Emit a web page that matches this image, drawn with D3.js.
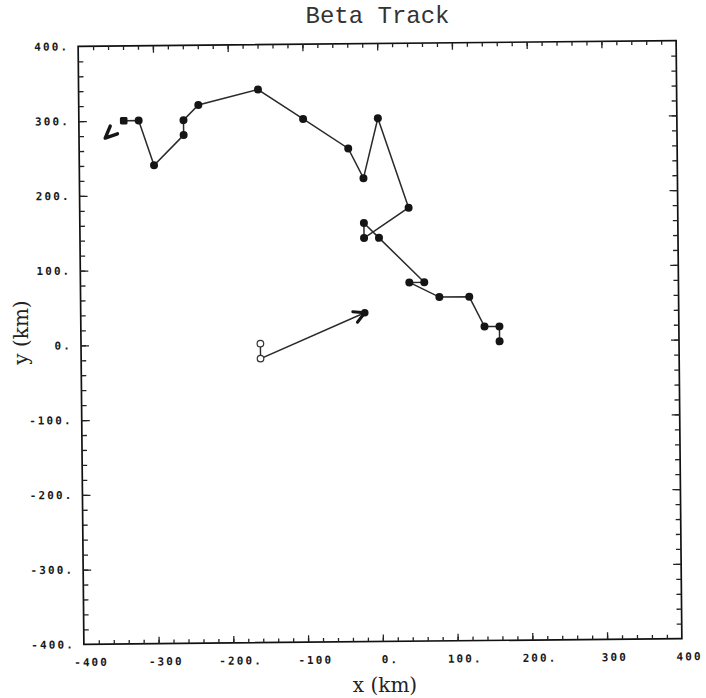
<!DOCTYPE html>
<html>
<head>
<meta charset="utf-8">
<script src="https://cdn.jsdelivr.net/npm/d3@7"></script>
<style>
  body { margin: 0; background: #fff; }
</style>
</head>
<body>
<div id="vis"></div>
<script>
// track of the vortex centre, km (first point = start)
const trackX = [160, 160, 140, 120, 80, 40, 60, 0, -20, -20, 40, 0, -20, -40, -100, -160, -240, -260, -260, -300, -320, -340];
const trackY = [0, 20, 20, 60, 60, 80, 80, 140, 160, 140, 180, 300, 220, 260, 300, 340, 320, 300, 280, 240, 300, 300];
const trackArrowTip = [-365, 277];

// drift vector with its two open start points
const driftX = [-160, -160, -20];
const driftY = [0, -20, 40];

const tickLabelValues = [-400, -300, -200, -100, 0, 100, 200, 300, 400];
const xTickLabels = ["-400", "-300", "-200.", "-100", "0.", "100.", "200.", "300", "400"];
const yTickLabels = ["-400.", "-300.", "-200.", "-100.", "0.", "100.", "200.", "300.", "400."];

const width = 706, height = 698;
const cx = 380, cy = 342.5, tilt = -0.55; // scanned page is slightly rotated

const x = d3.scaleLinear().domain([-400, 400]).range([81, 679]);
const y = d3.scaleLinear().domain([-400, 400]).range([641.5, 43.5]);

const svg = d3.select("#vis")
  .append("svg")
  .attr("width", width)
  .attr("height", height);

svg.append("text")
  .attr("x", 377.5)
  .attr("y", 23)
  .attr("text-anchor", "middle")
  .style("font-family", "'Liberation Mono', monospace")
  .style("font-size", "24px")
  .attr("fill", "#333")
  .text("Beta Track");

svg.append("text")
  .attr("x", 385)
  .attr("y", 692)
  .attr("text-anchor", "middle")
  .style("font-family", "'DejaVu Serif', serif")
  .style("font-size", "20px")
  .attr("fill", "#222")
  .text("x (km)");

svg.append("text")
  .attr("transform", "translate(28,332.5) rotate(-90)")
  .attr("text-anchor", "middle")
  .style("font-family", "'DejaVu Serif', serif")
  .style("font-size", "20px")
  .attr("fill", "#222")
  .text("y (km)");

const g = svg.append("g")
  .attr("transform", `rotate(${tilt},${cx},${cy})`);

// frame
g.append("rect")
  .attr("x", x(-400))
  .attr("y", y(400))
  .attr("width", x(400) - x(-400))
  .attr("height", y(-400) - y(400))
  .attr("fill", "none")
  .attr("stroke", "#111")
  .attr("stroke-width", 1.7);

// inward ticks on all four sides
const minorVals = d3.range(-380, 400, 20);
const majorVals = minorVals.filter(v => v % 100 === 0);

function tickRow(axis, transform, len, vals) {
  g.append("g")
    .attr("transform", transform)
    .call(axis.tickValues(vals).tickSize(-len).tickFormat(""))
    .call(a => a.select(".domain").remove())
    .call(a => a.selectAll("line").attr("stroke", "#222").attr("stroke-width", 1.3));
}

tickRow(d3.axisTop(x), `translate(0,${y(400)})`, 4, minorVals);
tickRow(d3.axisTop(x), `translate(0,${y(400)})`, 7, majorVals);
tickRow(d3.axisBottom(x), `translate(0,${y(-400)})`, 4, minorVals);
tickRow(d3.axisBottom(x), `translate(0,${y(-400)})`, 7, majorVals);
tickRow(d3.axisLeft(y), `translate(${x(-400)},0)`, 5, minorVals);
tickRow(d3.axisLeft(y), `translate(${x(-400)},0)`, 8, majorVals);
tickRow(d3.axisRight(y), `translate(${x(400)},0)`, 5, minorVals);
tickRow(d3.axisRight(y), `translate(${x(400)},0)`, 8, majorVals);

// tick labels
function styleLabels(sel) {
  sel.select(".domain").remove();
  sel.selectAll("text")
    .style("font-family", "'DejaVu Sans Mono', monospace")
    .style("font-size", "11px")
    .style("font-weight", "bold")
    .style("letter-spacing", "2.1px")
    .attr("fill", "#1a1a1a");
}

g.append("g")
  .attr("transform", `translate(0,${y(-400)})`)
  .call(d3.axisBottom(x).tickValues(tickLabelValues).tickSize(0).tickPadding(14)
    .tickFormat((d, i) => xTickLabels[i]))
  .call(styleLabels)
  .call(a => a.selectAll("text").attr("dx", 7));

g.append("g")
  .attr("transform", `translate(${x(-400)},0)`)
  .call(d3.axisLeft(y).tickValues(tickLabelValues).tickSize(0).tickPadding(9)
    .tickFormat((d, i) => yTickLabels[i]))
  .call(styleLabels);

// track
const track = d3.zip(trackX, trackY);
const line = d3.line().x(d => x(d[0])).y(d => y(d[1]));

g.append("path")
  .attr("d", line(track))
  .attr("fill", "none")
  .attr("stroke", "#2a2a2a")
  .attr("stroke-width", 1.5);

g.selectAll(".trackdot")
  .data(track.slice(0, -1))
  .join("circle")
  .attr("class", "trackdot")
  .attr("cx", d => x(d[0]))
  .attr("cy", d => y(d[1]))
  .attr("r", 4)
  .attr("fill", "#151515");

const last = track[track.length - 1];
g.append("rect")
  .attr("x", x(last[0]) - 3.8)
  .attr("y", y(last[1]) - 3.8)
  .attr("width", 7.6)
  .attr("height", 7.6)
  .attr("rx", 1.5)
  .attr("fill", "#151515");

function chevron(from, to, len, half, sw) {
  const p0 = [x(from[0]), y(from[1])], p1 = [x(to[0]), y(to[1])];
  const a = Math.atan2(p0[1] - p1[1], p0[0] - p1[0]);
  const pts = [
    [p1[0] + len * Math.cos(a + half), p1[1] + len * Math.sin(a + half)],
    p1,
    [p1[0] + len * Math.cos(a - half), p1[1] + len * Math.sin(a - half)]
  ];
  g.append("path")
    .attr("d", d3.line()(pts))
    .attr("fill", "none")
    .attr("stroke", "#151515")
    .attr("stroke-width", sw)
    .attr("stroke-linecap", "round")
    .attr("stroke-linejoin", "round");
}

chevron(last, trackArrowTip, 13, 0.42, 3.4);

// drift vector
const drift = d3.zip(driftX, driftY);
g.append("path")
  .attr("d", line(drift))
  .attr("fill", "none")
  .attr("stroke", "#2a2a2a")
  .attr("stroke-width", 1.4);

g.selectAll(".opendot")
  .data(drift.slice(0, 2))
  .join("circle")
  .attr("class", "opendot")
  .attr("cx", d => x(d[0]))
  .attr("cy", d => y(d[1]))
  .attr("r", 3.3)
  .attr("fill", "#fff")
  .attr("stroke", "#333")
  .attr("stroke-width", 1.2);

const tip = drift[drift.length - 1];
g.append("circle")
  .attr("cx", x(tip[0]))
  .attr("cy", y(tip[1]))
  .attr("r", 3.8)
  .attr("fill", "#151515");
chevron(drift[1], tip, 12, 0.5, 3);
</script>
</body>
</html>
